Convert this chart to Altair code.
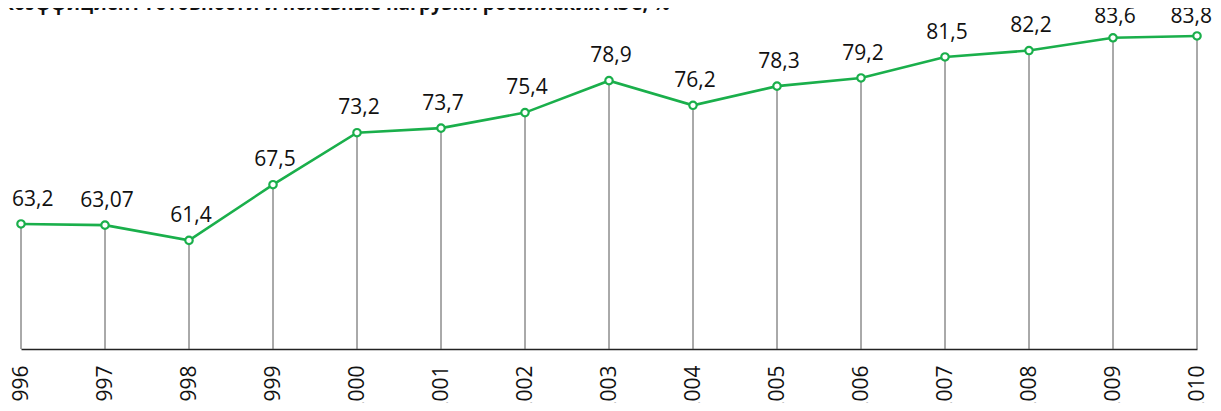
import altair as alt
import pandas as pd

title_text = "Коэффициент готовности и полезные нагрузки российских АЭС, %"
years = ["1996", "1997", "1998", "1999", "2000", "2001", "2002", "2003",
         "2004", "2005", "2006", "2007", "2008", "2009", "2010"]
values = [63.2, 63.07, 61.4, 67.5, 73.2, 73.7, 75.4, 78.9,
          76.2, 78.3, 79.2, 81.5, 82.2, 83.6, 83.8]
labels = ["63,2", "63,07", "61,4", "67,5", "73,2", "73,7", "75,4", "78,9",
          "76,2", "78,3", "79,2", "81,5", "82,2", "83,6", "83,8"]

df = pd.DataFrame({"year": years, "value": values, "label": labels})
title_df = pd.DataFrame({"title": [title_text]})

W, H = 1176, 324
Y_MIN, Y_MAX = 49.5, 85.0
GREEN = "#1aaf4b"
FONT = "Open Sans"

x = alt.X("year:O", scale=alt.Scale(type="point", padding=0),
          axis=alt.Axis(title=None, labelAngle=270, labelAlign="right", labelBaseline="middle",
                        labelFontSize=21, labelFont=FONT,
                        labelColor="#111", labelPadding=16, ticks=False, grid=False,
                        domainColor="#222", domainWidth=1.5))
yscale = alt.Scale(domain=[Y_MIN, Y_MAX], nice=False, zero=False)
y = alt.Y("value:Q", scale=yscale, axis=None)

base = alt.Chart(df)

rules = base.mark_rule(color="#555", strokeWidth=1).encode(
    x=x, y=y, y2=alt.value(H))

line = base.mark_line(color=GREEN, strokeWidth=2.6).encode(x=x, y=y)

points = base.mark_point(filled=True, fill="white", stroke=GREEN, strokeWidth=2.2,
                         size=55, opacity=1).encode(x=x, y=y)

text_base = base.transform_calculate(
    label_y="min(datum.value + 2.0, 85.2)")
ty = alt.Y("label_y:Q", scale=yscale, axis=None)

first_year, last_year = years[0], years[-1]

texts = text_base.transform_filter(
    (alt.datum.year != first_year) & (alt.datum.year != last_year)
).mark_text(
    font=FONT, fontSize=21, color="#111", align="center", baseline="alphabetic", dx=2
).encode(x=x, y=ty, text="label:N")

first_text = text_base.transform_filter(alt.datum.year == first_year).mark_text(
    font=FONT, fontSize=21, color="#111", align="left", baseline="alphabetic", dx=-9
).encode(x=x, y=ty, text="label:N")

last_text = text_base.transform_filter(alt.datum.year == last_year).mark_text(
    font=FONT, fontSize=21, color="#111", align="right", baseline="alphabetic", dx=15
).encode(x=x, y=ty, text="label:N")

title = alt.Chart(title_df).mark_text(
    font=FONT, fontSize=19, fontWeight="bold", color="#111",
    align="left", baseline="alphabetic"
).encode(x=alt.value(-20), y=alt.value(-15), text="title:N")

chart = alt.layer(rules, line, points, texts, first_text, last_text, title).properties(
    width=W, height=H,
    autosize=alt.AutoSizeParams(type="none"),
    padding={"left": 13, "top": 17, "right": 16, "bottom": 54},
).configure_view(stroke=None)

chart.save("out.html", embed_options={"renderer": "svg", "actions": False})
